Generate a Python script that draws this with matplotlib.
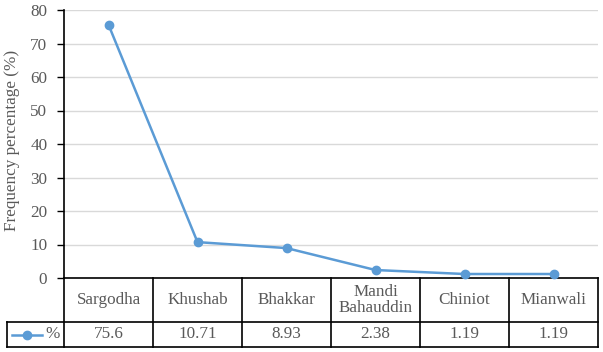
import matplotlib
matplotlib.use("Agg")
import matplotlib.pyplot as plt
from matplotlib.lines import Line2D

categories = ["Sargodha", "Khushab", "Bhakkar", "Mandi\nBahauddin", "Chiniot", "Mianwali"]
values = [75.6, 10.71, 8.93, 2.38, 1.19, 1.19]
value_labels = ["75.6", "10.71", "8.93", "2.38", "1.19", "1.19"]
yticks = [0, 10, 20, 30, 40, 50, 60, 70, 80]
series_name = "%"
ylabel = "Frequency percentage (%)"

W, H = 603, 352
plt.rcParams['font.family'] = ['Liberation Serif', 'DejaVu Serif']
fig = plt.figure(figsize=(W / 100, H / 100), dpi=100)

FS = 12.3
x0, x1 = 64, 598   # plot area px
ytop, ybot = 10, 278
ax = fig.add_axes([x0 / W, 1 - ybot / H, (x1 - x0) / W, (ybot - ytop) / H])

line_color = "#5B9BD5"
text_color = "#595959"


def fx(px):
    return (px - x0) / (x1 - x0)


def fy(py):
    return (ybot - py) / (ybot - ytop)


xs = list(range(len(categories)))
ax.plot(xs, values, color=line_color, lw=1.8, marker="o", ms=6, clip_on=False, zorder=5)
ax.set_xlim(-0.5, len(categories) - 0.5)
ax.set_ylim(0, 80)
ax.set_yticks(yticks)
ax.set_yticklabels([str(t) for t in yticks], fontsize=FS, color=text_color)
ax.tick_params(axis="y", length=5, width=1, color="black", pad=7)
ax.set_xticks([])
ax.grid(axis="y", color="#d9d9d9", lw=1)
ax.set_axisbelow(True)
for s in ["top", "right"]:
    ax.spines[s].set_visible(False)
ax.spines["left"].set_color("black")
ax.spines["bottom"].set_color("black")
ax.spines["left"].set_linewidth(1.2)
ax.spines["bottom"].set_linewidth(1.2)
ax.set_ylabel(ylabel, fontsize=FS, color=text_color)
ax.yaxis.set_label_coords(fx(20), fy(140))

# table drawn in pixel-derived axes fractions
row1_bot = 322
row2_bot = 347
tleft = 7
kw = dict(transform=ax.transAxes, color="black", lw=1.2, clip_on=False)
n = len(categories)
ax.add_line(Line2D([fx(tleft), fx(x1)], [fy(row1_bot)] * 2, **kw))
ax.add_line(Line2D([fx(tleft), fx(x1)], [fy(row2_bot)] * 2, **kw))
ax.add_line(Line2D([fx(tleft)] * 2, [fy(row1_bot), fy(row2_bot)], **kw))
for i in range(n + 1):
    xf = i / n
    ax.add_line(Line2D([xf, xf], [0, fy(row2_bot)], **kw))

for i, (c, v) in enumerate(zip(categories, value_labels)):
    xc = (i + 0.5) / n
    ax.text(xc, fy((ybot + row1_bot) / 2), c, transform=ax.transAxes, ha="center", va="center",
            fontsize=FS, color=text_color, linespacing=1.0)
    ax.text(xc, fy((row1_bot + row2_bot) / 2), v, transform=ax.transAxes, ha="center", va="center",
            fontsize=FS, color=text_color)

ykey = fy((row1_bot + row2_bot) / 2)
ax.add_line(Line2D([fx(12), fx(42)], [ykey, ykey], transform=ax.transAxes, color=line_color,
                   lw=1.8, clip_on=False))
ax.add_line(Line2D([fx(27)], [ykey], transform=ax.transAxes, color=line_color, marker="o", ms=6,
                   clip_on=False))
ax.text(fx(53), ykey, series_name, transform=ax.transAxes, ha="center", va="center",
        fontsize=FS, color=text_color)

fig.savefig("out.png", dpi=100)
